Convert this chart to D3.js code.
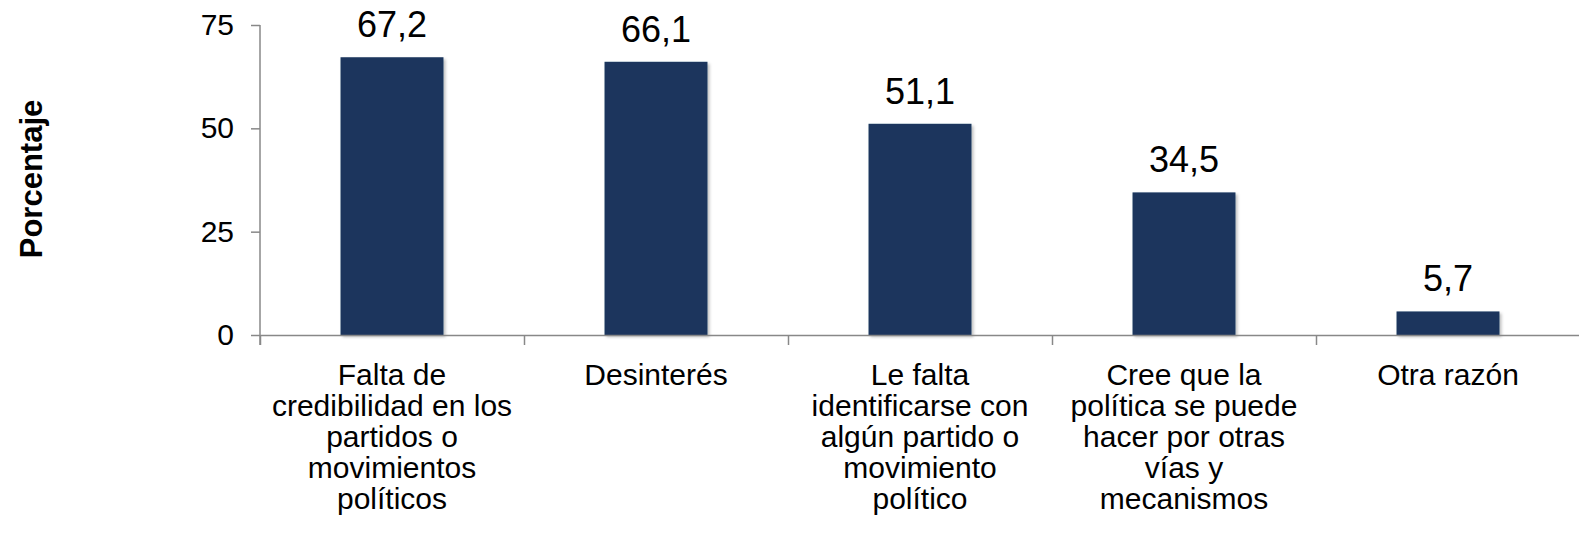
<!DOCTYPE html>
<html>
<head>
<meta charset="utf-8">
<script src="https://cdn.jsdelivr.net/npm/d3@7"></script>
<style>
  body { margin: 0; background: #fff; }
  text { font-family: "Liberation Sans", Arial, sans-serif; fill: #000; }
</style>
</head>
<body>
<div id="canvas"></div>
<script>
const categories = ["falta", "desinteres", "identificarse", "otrasvias", "otra"];
const values = [67.2, 66.1, 51.1, 34.5, 5.7];
const valueLabels = ["67,2", "66,1", "51,1", "34,5", "5,7"];
const categoryLines = [
  ["Falta de", "credibilidad en los", "partidos o", "movimientos", "políticos"],
  ["Desinterés"],
  ["Le falta", "identificarse con", "algún partido o", "movimiento", "político"],
  ["Cree que la", "política se puede", "hacer por otras", "vías y", "mecanismos"],
  ["Otra razón"]
];
const yTicks = [0, 25, 50, 75];
const yTitle = "Porcentaje";

const width = 1579, height = 538;
const margin = { top: 25, left: 260, bottom: 203, right: -1 };
const iwidth = width - margin.left - margin.right;
const iheight = height - margin.top - margin.bottom;

const svg = d3.select("#canvas").append("svg")
  .attr("width", width)
  .attr("height", height);

const defs = svg.append("defs");
const shadow = defs.append("filter").attr("id", "shadow")
  .attr("x", "-10%").attr("y", "-10%").attr("width", "130%").attr("height", "130%");
shadow.append("feDropShadow")
  .attr("dx", 2).attr("dy", 2).attr("stdDeviation", 1.5)
  .attr("flood-color", "#000").attr("flood-opacity", 0.25);

const g = svg.append("g").attr("transform", `translate(${margin.left},${margin.top})`);

const y = d3.scaleLinear().domain([0, 75]).range([iheight, 0]);
const x = d3.scaleBand()
  .domain(categories)
  .range([0, iwidth])
  .paddingInner(0.61)
  .paddingOuter(0.305);

const data = categories.map((c, i) => ({ id: c, v: values[i], label: valueLabels[i], lines: categoryLines[i] }));

// bars
g.selectAll("rect.bar").data(data).enter().append("rect")
  .attr("class", "bar")
  .attr("x", d => x(d.id))
  .attr("y", d => y(d.v))
  .attr("width", x.bandwidth())
  .attr("height", d => iheight - y(d.v))
  .style("fill", "#1a365d")
  .attr("filter", "url(#shadow)");

// value labels
g.selectAll("text.val").data(data).enter().append("text")
  .attr("class", "val")
  .attr("x", d => x(d.id) + x.bandwidth() / 2)
  .attr("y", d => y(d.v) - 20)
  .attr("text-anchor", "middle")
  .style("font-size", "36px")
  .text(d => d.label);

// y axis
const yAxis = g.append("g")
  .call(d3.axisLeft(y).tickValues(yTicks).tickSize(9).tickPadding(17).tickSizeOuter(0));
yAxis.select(".domain").attr("stroke", "#888").attr("stroke-width", 1.5)
  .attr("d", `M0,0V${iheight + 10}`);
yAxis.selectAll(".tick line").attr("stroke", "#888").attr("stroke-width", 1.5);
yAxis.selectAll(".tick text").style("font-size", "30px").attr("fill", "#000");

// x axis
const step = x.step();
const bounds = d3.range(categories.length + 1).map(i => i * step);
const xLin = d3.scaleLinear().domain([0, iwidth]).range([0, iwidth]);
const xAxis = g.append("g")
  .attr("transform", `translate(0,${iheight})`)
  .call(d3.axisBottom(xLin).tickValues(bounds).tickSize(10).tickFormat("").tickSizeOuter(0));
xAxis.select(".domain").attr("stroke", "#888").attr("stroke-width", 1.5);
xAxis.selectAll(".tick line").attr("stroke", "#888").attr("stroke-width", 1.5);

// category labels
const cat = g.selectAll("text.cat").data(data).enter().append("text")
  .attr("class", "cat")
  .attr("text-anchor", "middle")
  .style("font-size", "30px");
cat.selectAll("tspan").data(d => d.lines.map(l => ({ l, cx: x(d.id) + x.bandwidth() / 2 })))
  .enter().append("tspan")
  .attr("x", d => d.cx)
  .attr("y", (d, i) => iheight + 50 + i * 31)
  .text(d => d.l);

// y title
svg.append("text")
  .attr("transform", `translate(42,179) rotate(-90)`)
  .attr("text-anchor", "middle")
  .style("font-size", "31px")
  .style("font-weight", "bold")
  .text(yTitle);
</script>
</body>
</html>
